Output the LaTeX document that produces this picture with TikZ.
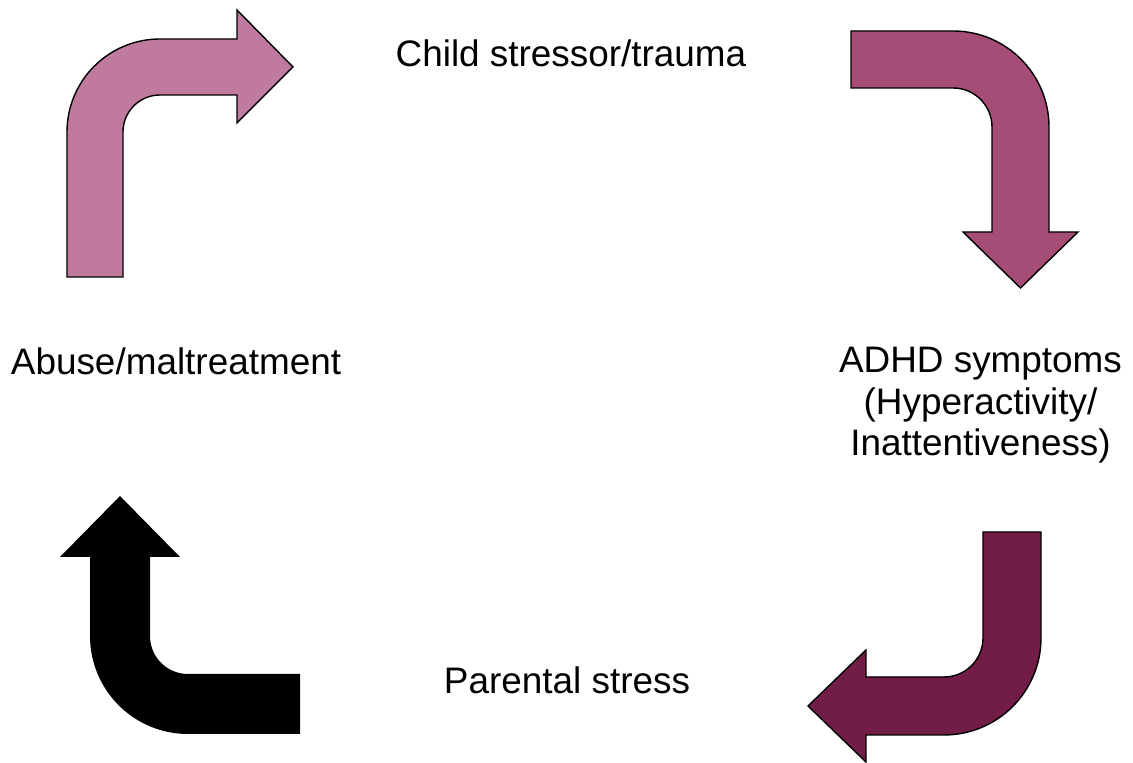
\documentclass[tikz,border=0pt]{standalone}
\usepackage{fontspec}
\setmainfont{Liberation Sans}
\usepackage{tikz}

\definecolor{rosepink}{RGB}{192,122,158}
\definecolor{berry}{RGB}{165,77,119}
\definecolor{plum}{RGB}{114,29,71}

\begin{document}
\begin{tikzpicture}[x=0.02cm,y=0.02cm,line join=miter,
   font=\fontsize{21}{23.7}\selectfont]
   \tikzstyle{bentarrow}=[draw=black,line width=0.8pt]
   \tikzstyle{label}=[inner sep=0pt,anchor=base,align=center]

   \useasboundingbox (0,0) rectangle (1133,763);

   % arrows
   \path[bentarrow,fill=rosepink]
      (67,486) -- (67,631) arc[start angle=180,end angle=90,radius=93]
      -- (237,724) -- (237,753) -- (293,696) -- (237,640) -- (237,668)
      -- (160,668) arc[start angle=90,end angle=180,radius=37]
      -- (123,486) -- cycle;
   \path[bentarrow,fill=berry]
      (851,675) -- (851,732) -- (953,732) arc[start angle=90,end angle=0,radius=96]
      -- (1049,531) -- (1078,531) -- (1020.5,475) -- (963,531) -- (992,531)
      -- (992,636) arc[start angle=0,end angle=90,radius=39]
      -- cycle;
   \path[bentarrow,fill=plum]
      (983,231) -- (1041,231) -- (1041,125) arc[start angle=0,end angle=-90,radius=97]
      -- (866,28) -- (866,1) -- (808,57) -- (866,113) -- (866,86)
      -- (944,86) arc[start angle=-90,end angle=0,radius=39]
      -- cycle;
   \path[fill=black]
      (300,29) -- (188,29) arc[start angle=270,end angle=180,radius=98]
      -- (90,206) -- (60,206) -- (120,267) -- (180,206) -- (150,206)
      -- (150,127) arc[start angle=180,end angle=270,radius=38]
      -- (300,89) -- cycle;

   % labels
   \node[label] (child)    at (571,696)  {Child stressor/trauma};
   \node[label] (adhd)     at (980.5,307) {ADHD symptoms\\(Hyperactivity/\\Inattentiveness)};
   \node[label] (parental) at (567,69)   {Parental stress};
   \node[label] (abuse)    at (176,388)  {Abuse/maltreatment};
\end{tikzpicture}
\end{document}
